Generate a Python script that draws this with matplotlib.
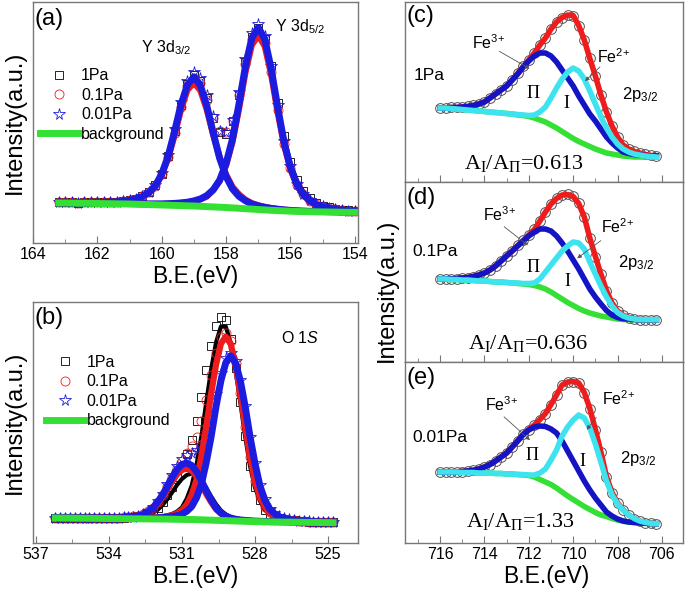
import numpy as np
import matplotlib
matplotlib.use("Agg")
import matplotlib.pyplot as plt
from matplotlib.patches import FancyArrowPatch
from matplotlib.ticker import MultipleLocator

plt.rcParams['font.family'] = ['Liberation Sans', 'DejaVu Sans']
plt.rcParams['mathtext.fontset'] = 'custom'
plt.rcParams['mathtext.rm'] = 'Liberation Sans'
plt.rcParams['mathtext.it'] = 'Liberation Sans:italic'
plt.rcParams['mathtext.default'] = 'regular'

W, H = 685, 593

# ---------------- (a) Y 3d, heights above background ----------------
be_a = np.round(np.arange(163.2, 153.99, -0.2), 2)
bg_a = [40, 40, 39.9, 39.8, 39.7, 39.6, 39.5, 39.4, 39.3, 39.2, 39.1, 39, 38.8, 38.6, 38.4, 38.2,
        38, 37.8, 37.6, 37.4, 37.2, 37, 36.7, 36.4, 36.1, 35.8, 35.5, 35.1, 34.7, 34.3, 33.9, 33.5,
        33.1, 32.7, 32.4, 32.1, 31.8, 31.6, 31.4, 31.3, 31.2, 31.1, 31, 30.9, 30.8, 30.7, 30.7]
# 0.01Pa
d32_001 = [0.3, 0.3, 0.4, 0.4, 0.5, 0.6, 0.8, 1.0, 1.4, 1.9, 2.6, 3.6, 5, 8, 12, 19, 31, 49, 74, 101,
           121, 129, 121, 101, 74, 49, 31, 19, 12, 8, 5, 3.6, 2.6, 1.9, 1.4, 1.0, 0.8, 0.6, 0.5, 0.4,
           0.4, 0.3, 0.3, 0.2, 0.2, 0.2, 0.2]
d52_001 = [0.2, 0.2, 0.2, 0.2, 0.3, 0.3, 0.3, 0.3, 0.3, 0.3, 0.4, 0.4, 0.5, 0.5, 0.7, 0.9, 1.1, 1.5,
           2.0, 2.7, 3.6, 5.1, 7.3, 11, 17, 27, 44, 69, 104, 142, 171, 182, 171, 142, 104, 69, 44,
           27, 17, 11, 7.3, 5.1, 3.6, 2.7, 2.0, 1.5, 1.1]
# 0.1Pa
d32_01 = [0.3, 0.3, 0.4, 0.4, 0.5, 0.6, 0.7, 1.0, 1.4, 1.8, 2.5, 3.4, 4.9, 7.4, 12, 18, 30, 47, 70, 96,
          116, 123, 116, 97, 72, 50, 33, 21, 14, 9, 6, 4.2, 3, 2.2, 1.6, 1.2, 0.9, 0.7, 0.6, 0.5,
          0.4, 0.3, 0.3, 0.2, 0.2, 0.2, 0.2]
d52_01 = [0.2, 0.2, 0.2, 0.2, 0.3, 0.3, 0.3, 0.3, 0.3, 0.3, 0.4, 0.4, 0.5, 0.5, 0.6, 0.8, 1.0, 1.4,
          1.9, 2.6, 3.5, 4.9, 7, 10, 17, 26, 42, 66, 99, 136, 164, 174, 164, 136, 99, 66, 42,
          26, 17, 10, 7, 4.9, 3.5, 2.6, 1.9, 1.4, 1.0]
# 1Pa
d32_1 = [0.3, 0.3, 0.4, 0.4, 0.5, 0.6, 0.8, 1.0, 1.4, 1.9, 2.5, 3.5, 5, 7.6, 12, 19, 30, 48, 72, 98,
         118, 126, 118, 98, 72, 48, 30, 19, 12, 7.6, 5, 3.5, 2.5, 1.9, 1.4, 1.0, 0.8, 0.6, 0.5, 0.4,
         0.4, 0.3, 0.3, 0.2, 0.2, 0.2, 0.2]
d52_1 = [0.2, 0.2, 0.2, 0.2, 0.3, 0.3, 0.3, 0.3, 0.3, 0.3, 0.4, 0.4, 0.5, 0.5, 0.7, 0.9, 1.1, 1.5,
         2.0, 2.7, 3.6, 5, 7, 11, 17, 27, 43, 68, 101, 139, 167, 178, 168, 142, 106, 74, 48,
         31, 20, 13, 8.5, 6, 4.2, 3.1, 2.3, 1.7, 1.3]

# ---------------- (b) O 1s ----------------
be_b = np.round(np.arange(536.2, 524.79, -0.2), 2)
bg_b = [25, 25, 24.9, 24.9, 24.8, 24.8, 24.7, 24.7, 24.6, 24.6, 24.5, 24.5, 24.4, 24.4, 24.3, 24.3,
        24.2, 24.2, 24.1, 24.1, 24.0, 24.0, 23.9, 23.9, 23.8, 23.7, 23.6, 23.55, 23.5, 23.35, 23.2,
        23.0, 22.85, 22.7, 22.5, 22.35, 22.2, 22.0, 21.85, 21.7, 21.5, 21.4, 21.3, 21.2, 21.1, 21.0,
        20.95, 20.9, 20.85, 20.8, 20.75, 20.7, 20.6, 20.55, 20.5, 20.45, 20.4, 20.3]
olat_001 = [0.2] * 14 + [0.3, 0.3, 0.3, 0.5, 0.5, 0.7, 0.8, 1.2, 1.5, 2.0, 2.6, 3.6, 5.3, 8.3, 13, 22,
            36, 58, 84, 114, 140, 158, 165, 158, 140, 114, 84, 58, 36, 22, 13, 8.3, 5.3, 3.6,
            2.6, 2.0, 1.5, 1.2, 0.8, 0.7, 0.5, 0.5, 0.3, 0.3]
ooh_001 = [0.2, 0.2, 0.2, 0.2, 0.2, 0.2, 0.3, 0.3, 0.3, 0.4, 0.4, 0.5, 0.6, 0.7, 1.0, 1.4, 2.0, 2.8,
           4.5, 7.3, 11, 17, 24, 33, 42, 50, 55, 56.5, 54, 48, 39, 29, 20, 12.4, 7.6, 4.5, 2.8,
           1.8, 1.2, 0.9, 0.7, 0.5, 0.4, 0.4, 0.3, 0.3, 0.3, 0.2, 0.2, 0.2, 0.2, 0.2, 0.2, 0.1,
           0.1, 0.1, 0.1, 0.1]
olat_01 = [0.2] * 13 + [0.3, 0.4, 0.4, 0.6, 0.6, 0.7, 0.9, 1.3, 1.7, 2.2, 2.9, 4.0, 5.9, 9.2, 15, 25,
           40, 64, 94, 127, 156, 177, 184, 177, 156, 127, 94, 64, 40, 25, 15, 9.2, 5.9, 4.0,
           2.9, 2.2, 1.7, 1.3, 0.9, 0.7, 0.6, 0.6, 0.4, 0.4, 0.3]
ooh_01 = [0.2, 0.2, 0.2, 0.2, 0.2, 0.2, 0.3, 0.3, 0.3, 0.3, 0.4, 0.4, 0.5, 0.7, 0.9, 1.3, 1.8, 2.6,
          4.1, 6.6, 10, 15, 22, 30, 38, 45, 49.5, 51, 49, 43, 35, 26, 18, 11, 6.9, 4.1, 2.6, 1.6,
          1.1, 0.8, 0.6, 0.5, 0.4, 0.3, 0.3, 0.3, 0.2, 0.2, 0.2, 0.2, 0.2, 0.2, 0.1, 0.1, 0.1,
          0.1, 0.1, 0.1]
olat_1 = [0.2, 0.2, 0.2, 0.2, 0.2, 0.3, 0.3, 0.3, 0.3, 0.3, 0.3, 0.4, 0.4, 0.4, 0.4, 0.5, 0.6, 0.8,
          1.0, 1.2, 1.6, 2.0, 2.7, 3.7, 5.3, 7.8, 12, 21, 34, 55, 84, 118, 151, 178, 194, 194, 178,
          151, 118, 84, 55, 34, 21, 12, 7.8, 5.3, 3.7, 2.7, 2.0, 1.6, 1.2, 1.0, 0.8, 0.6, 0.5,
          0.4, 0.4, 0.3]
ooh_1 = [0.2, 0.2, 0.2, 0.2, 0.2, 0.2, 0.2, 0.3, 0.3, 0.3, 0.3, 0.4, 0.4, 0.5, 0.6, 0.8, 1.2, 1.6,
         2.3, 3.7, 6, 9.2, 14, 20, 27, 34.5, 40.5, 44.5, 46, 44, 39, 32, 23.5, 16, 10, 6.2, 3.7,
         2.3, 1.5, 1.0, 0.7, 0.55, 0.4, 0.3, 0.3, 0.2, 0.2, 0.2, 0.2, 0.2, 0.1, 0.1, 0.1, 0.1,
         0.1, 0.1, 0.1, 0.1]

# ---------------- (c)-(e) Fe 2p3/2 ----------------
be_fe = np.arange(716.0, 706.2, -0.25)
fe_bg = {
    '1Pa': [74, 74, 73.5, 73, 72.5, 72, 71.5, 71, 70.5, 70, 69.5, 69, 68.5, 68, 67, 66.5, 65.5, 64,
            62, 60, 57, 54, 50.5, 47, 43.5, 40.5, 38, 35.5, 33, 31, 29, 28, 27, 26, 25.5, 25, 25,
            25, 25, 25],
    '0.1Pa': [83, 83, 82.5, 82.5, 82, 82, 81.5, 81, 81, 80.5, 80, 80, 79.5, 79, 78.5, 78, 77.5,
              76.5, 75, 73, 70, 66.5, 63, 59.5, 56.5, 53.5, 51, 49, 47.5, 46, 45, 44, 43, 42.5,
              42.5, 42.5, 42.3, 42.3, 42.3, 42.3],
    '0.01Pa': [71, 71, 71, 71, 70.5, 70.5, 70.5, 70, 70, 70, 69.5, 69.5, 69, 69, 68.5, 68, 67.5,
               66, 63.5, 61, 58.5, 55, 51, 47, 43.5, 40, 36.5, 33.5, 30.5, 28, 26.5, 24.5, 23,
               21.7, 21, 20.5, 20, 19.7, 19.5, 19.3],
}
fe3 = {
    '1Pa': [74, 74, 74.5, 74.5, 75, 75.5, 76.5, 78, 80, 84, 88, 92, 96, 102, 108, 115, 121, 126,
            129, 129, 126, 120, 112, 104, 96, 86, 77, 68, 61, 53, 45, 39, 34, 30, 28.5, 27.5, 27,
            26.5, 26, 26],
    '0.1Pa': [83, 83, 83, 83.5, 84, 84.5, 85.5, 87, 89, 92, 96, 101, 106, 111, 116, 121, 126, 130,
              133, 133, 131, 126, 119, 111, 102, 93, 83, 73, 65, 58, 51.5, 47, 44.5, 43.3, 43,
              42.5, 42.3, 42.3, 42.3, 42.3],
    '0.01Pa': [71, 71, 71, 71, 71.5, 72, 72.7, 74, 76, 78.5, 82, 86, 90, 96, 102, 108.5, 113, 116,
               117, 116.5, 114, 110, 102, 92, 82, 72, 62, 53, 45, 38, 31, 27, 24, 22, 21, 20.5,
               20, 19.7, 19.5, 19.3],
}
fe2 = {
    '1Pa': [74, 74, 73.5, 73, 72.5, 72, 71.5, 71, 70.5, 70, 69.5, 69, 68.5, 68, 67.5, 67, 66.5, 67,
            70, 75, 84, 94, 103, 110, 114, 111, 103, 91, 78, 65, 54, 45, 38, 33, 30, 28, 27, 26,
            25.5, 25],
    '0.1Pa': [83, 83, 82.5, 82.5, 82, 82, 81.5, 81, 81, 80.5, 80, 80, 79.5, 79, 79, 78.5, 78.5, 79,
              83, 90, 97, 104, 111, 116, 120, 119, 113, 100, 88, 76, 65, 56, 49.5, 46, 44, 43,
              42.5, 42.3, 42.3, 42.3],
    '0.01Pa': [71, 71, 71, 71, 70.5, 70.5, 70.5, 70, 70, 70, 69.5, 69.5, 69, 69, 68.5, 68.5, 68, 68,
               70, 74, 83, 93, 107, 116, 123, 128, 125, 115, 99, 81, 62, 48, 39, 33, 28, 24.5, 22,
               20.5, 19.7, 19.3],
}
ratios = {'1Pa': '0.613', '0.1Pa': '0.636', '0.01Pa': '1.33'}

RED = '#ee1c1c'
BLUE = '#1c1ce0'
DBLUE = '#1414c4'
GREEN = '#33e033'
CYAN = '#3de3ef'
FRAME = '#777777'

fig = plt.figure(figsize=(W / 100, H / 100), dpi=100)


def box(x0, y0, x1, y1):
    return [x0 / W, 1 - y1 / H, (x1 - x0) / W, (y1 - y0) / H]


def fp(x, y):
    return (x / W, 1 - y / H)


def style(ax):
    ax.set_yticks([])
    for s in ax.spines.values():
        s.set_color(FRAME)
        s.set_linewidth(1)
    ax.tick_params(axis='x', which='both', direction='in', color=FRAME, labelsize=11.5, pad=3)
    ax.tick_params(axis='x', which='major', length=5)
    ax.tick_params(axis='x', which='minor', length=3)


ax_a = fig.add_axes(box(33, 2, 358, 243))
ax_b = fig.add_axes(box(33, 302, 358, 543))
ax_c = fig.add_axes(box(405, 2, 683, 182))
ax_d = fig.add_axes(box(405, 182, 683, 362))
ax_e = fig.add_axes(box(405, 362, 683, 543))


def left_panel(ax, be, bg, sets, legend_anchor):
    bg = np.array(bg)
    # fitted components (1Pa black, 0.1Pa red, 0.01Pa blue)
    for (lc, lw, z), comps in zip([('k', 3, 1), (RED, 4.5, 3), (BLUE, 5, 4)], sets):
        for comp in comps:
            ax.plot(be, bg + np.array(comp), color=lc, lw=lw, zorder=z)
    marks = [('s', 'k', 6, '1Pa'), ('o', RED, 6.5, '0.1Pa'), ('*', BLUE, 8.5, '0.01Pa')]
    handles = []
    for (m, c, ms, lab), comps in zip(marks, sets):
        total = bg + np.array(comps[0]) + np.array(comps[1])
        h, = ax.plot(be, total, m, mfc='none', mec=c, ms=ms, mew=0.6, label=lab, zorder=2)
        handles.append(h)
    h, = ax.plot(be, bg, color=GREEN, lw=5, label='background', zorder=5)
    handles.append(h)
    ax.legend(handles=handles, loc='upper left', bbox_to_anchor=legend_anchor, frameon=False,
              fontsize=11.5, handlelength=2.4, handletextpad=0.15, labelspacing=0.28,
              borderpad=0, borderaxespad=0, numpoints=1)
    style(ax)


left_panel(ax_a, be_a, bg_a, [(d32_1, d52_1), (d32_01, d52_01), (d32_001, d52_001)], (0.022, 0.725))
ax_a.set_xlim(164.0, 153.9)
ax_a.set_ylim(0, 241)
ax_a.xaxis.set_major_locator(MultipleLocator(2))
ax_a.xaxis.set_minor_locator(MultipleLocator(1))

left_panel(ax_b, be_b, bg_b, [(olat_1, ooh_1), (olat_01, ooh_01), (olat_001, ooh_001)], (0.04, 0.78))
ax_b.set_xlim(537.12, 523.77)
ax_b.set_ylim(0, 241)
ax_b.xaxis.set_major_locator(MultipleLocator(3))
ax_b.xaxis.set_minor_locator(MultipleLocator(1.5))

for ax, key, top in [(ax_c, '1Pa', 180), (ax_d, '0.1Pa', 180), (ax_e, '0.01Pa', 181)]:
    g = np.array(fe_bg[key])
    b3 = np.array(fe3[key])
    b2 = np.array(fe2[key])
    env = b3 + b2 - g
    ax.plot(be_fe, env, 'o', mfc='none', mec='#505050', ms=7, mew=0.7, zorder=1)
    ax.plot(be_fe, g, color=GREEN, lw=4, zorder=2)
    ax.plot(be_fe, env, color=RED, lw=4, zorder=3)
    ax.plot(be_fe, b3, color=DBLUE, lw=4, zorder=4)
    ax.plot(be_fe, b2, color=CYAN, lw=4, zorder=5)
    ax.set_xlim(717.58, 705.05)
    ax.set_ylim(0, top)
    ax.xaxis.set_major_locator(MultipleLocator(2))
    ax.xaxis.set_minor_locator(MultipleLocator(1))
    style(ax)
ax_c.tick_params(labelbottom=False)
ax_d.tick_params(labelbottom=False)

# axis titles
for x, y in [(15, 122), (15, 422), (387, 290)]:
    fig.text(*fp(x, y), 'Intensity(a.u.)', rotation=90, fontsize=17, ha='center', va='center')
for x, y in [(195, 276), (195, 576), (546, 576)]:
    fig.text(*fp(x, y), 'B.E.(eV)', fontsize=16.5, ha='center', va='center')

# panel letters
for lab, x, y in [('(a)', 34, 19), ('(b)', 34, 318), ('(c)', 407, 16), ('(d)', 407, 198), ('(e)', 407, 378)]:
    fig.text(*fp(x, y), lab, fontsize=17, ha='left', va='center')

fig.text(*fp(166, 48), 'Y 3d$_{3/2}$', fontsize=11.5, ha='center', va='center')
fig.text(*fp(300, 27), 'Y 3d$_{5/2}$', fontsize=11.5, ha='center', va='center')
fig.text(*fp(300, 338), r'O $\mathit{1S}$', fontsize=11.5, ha='center', va='center')

# Fe panels annotations
fe_text = [
    # pressure, fe3 pos, fe3 arrow, fe2 pos, fe2 arrow, Pi, I, 2p, ratio
    ((429, 75), (488, 43), ((497, 50), (532, 70)), (613, 57), ((602, 65), (583, 83)),
     (533, 94), (566, 104), (640, 94), (524, 163), '1Pa'),
    ((435, 251), (499, 215), ((502, 225), (530, 247)), (617, 227), ((603, 239), (575, 260)),
     (533, 267), (567, 281), (636, 263), (528, 344), '0.1Pa'),
    ((440, 438), (501, 405), ((502, 415), (532, 442)), (618, 399), ((598, 415), (585, 432)),
     (532, 455), (582, 462), (638, 458), (520, 521), '0.01Pa'),
]
for p, f3, a3, f2, a2, pi, ii, tp, rt, key in fe_text:
    fig.text(*fp(*p), key, fontsize=12.5, ha='center', va='center')
    fig.text(*fp(*f3), 'Fe$^{3{+}}$', fontsize=11.5, ha='center', va='center')
    fig.text(*fp(*f2), 'Fe$^{2{+}}$', fontsize=11.5, ha='center', va='center')
    for (s, e) in (a3, a2):
        fig.add_artist(FancyArrowPatch(
            fp(*s), fp(*e), transform=fig.transFigure, arrowstyle='-|>', mutation_scale=6,
            color='#555555', lw=0.6, zorder=10))
    fig.text(*fp(*pi), 'Π', fontsize=13, family='Liberation Serif', ha='center', va='center')
    fig.text(*fp(*ii), 'I', fontsize=13, family='Liberation Serif', ha='center', va='center')
    fig.text(*fp(*tp), '2p$_{3/2}$', fontsize=12, ha='center', va='center')
    fig.text(*fp(*rt), 'A$_{I}$/A$_{Π}$=' + ratios[key], fontsize=16, family='Liberation Serif',
             ha='center', va='center')

fig.savefig('out.png', dpi=100)
